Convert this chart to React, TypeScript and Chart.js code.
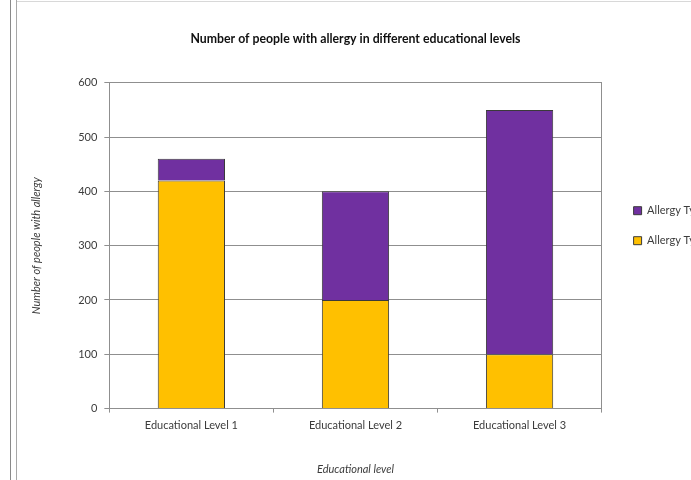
import React, { useEffect, useRef } from "react";
import { Chart, registerables } from "chart.js";

Chart.register(...registerables);

const categories = ["Educational Level 1", "Educational Level 2", "Educational Level 3"];
const allergyType1 = [420, 200, 100];
const allergyType2 = [40, 200, 450];
const seriesNames = ["Allergy Type 1", "Allergy Type 2"];
const chartTitle = "Number of people with allergy in different educational levels";
const xTitle = "Educational level";
const yTitle = "Number of people with allergy";

const FONT = "Lato, 'Noto Sans', sans-serif";
const GRID = "#8f8f8f";
const TEXT = "#3c3c3c";

export default function App() {
  const ref = useRef<HTMLCanvasElement | null>(null);

  useEffect(() => {
    if (!ref.current) return;
    const chart = new Chart(ref.current, {
      type: "bar",
      data: {
        labels: categories,
        datasets: [
          {
            label: seriesNames[0],
            data: allergyType1,
            backgroundColor: "#FFC000",
            borderColor: "#3a3a3a",
            borderWidth: 1,
            barPercentage: 0.41,
            categoryPercentage: 1,
          },
          {
            label: seriesNames[1],
            data: allergyType2,
            backgroundColor: "#7030A0",
            borderColor: "#3a3a3a",
            borderWidth: 1,
            barPercentage: 0.41,
            categoryPercentage: 1,
          },
        ],
      },
      options: {
        responsive: false,
        animation: false,
        layout: { padding: { left: 18, right: 34, top: 0, bottom: 0 } },
        plugins: {
          title: {
            display: true,
            fullSize: false,
            text: chartTitle,
            color: "#111",
            font: { family: FONT, size: 12.3, weight: "bold" },
            padding: { top: 32, bottom: 36 },
          },
          legend: {
            position: "right",
            align: "start",
            reverse: true,
            title: { display: true, text: "", padding: { top: 173, bottom: 0 }, font: { size: 11 } },
            labels: {
              boxWidth: 8,
              boxHeight: 8,
              padding: 19,
              color: TEXT,
              font: { family: FONT, size: 11 },
            },
          },
          tooltip: { enabled: false },
        },
        scales: {
          x: {
            stacked: true,
            grid: { display: true, drawOnChartArea: false, drawTicks: true, tickLength: 4, color: GRID, offset: true },
            border: { display: true, color: GRID },
            ticks: { color: TEXT, font: { family: FONT, size: 11 }, padding: 6, maxRotation: 0 },
            title: {
              display: true,
              text: xTitle,
              color: TEXT,
              font: { family: FONT, size: 11, style: "italic" },
              padding: { top: 25, bottom: 4 },
            },
          },
          y: {
            stacked: true,
            min: 0,
            max: 600,
            ticks: { stepSize: 100, color: TEXT, font: { family: FONT, size: 11 }, padding: 7 },
            grid: { color: GRID, tickLength: 5 },
            border: { display: true, color: GRID },
            title: {
              display: true,
              text: yTitle,
              color: TEXT,
              font: { family: FONT, size: 11, style: "italic" },
              padding: { top: 12, bottom: 28 },
            },
          },
          y2: {
            type: "linear",
            position: "right",
            grid: { display: false },
            ticks: { display: false },
            border: { display: true, color: GRID },
            afterFit: (s: any) => {
              s.width = 13;
            },
          },
        },
      },
    });
    return () => chart.destroy();
  }, []);

  return (
    <div style={{ position: "fixed", left: 0, top: 0, width: 691, height: 480, overflow: "hidden", background: "#fff" }}>
      <div style={{ position: "absolute", left: 10, top: 0, width: 1, height: 480, background: "#8a8a8a" }} />
      <div style={{ position: "absolute", left: 16, top: 0, width: 1, height: 480, background: "#a8a8a8" }} />
      <div style={{ position: "absolute", left: 17, top: 1, width: 674, height: 1, background: "#d8d8d8" }} />
      <canvas ref={ref} width={760} height={480} style={{ position: "absolute", left: 0, top: 0, width: 760, height: 480 }} />
    </div>
  );
}
